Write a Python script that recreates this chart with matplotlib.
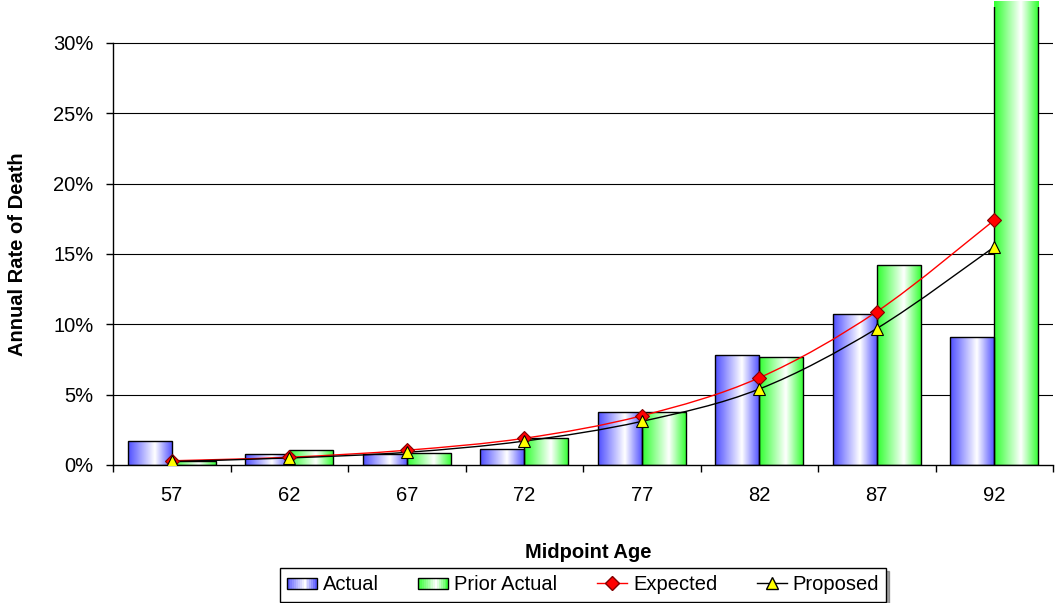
import matplotlib
matplotlib.use('Agg')
import matplotlib.pyplot as plt
import numpy as np
from matplotlib.patches import Rectangle, PathPatch
from matplotlib.path import Path
from matplotlib.lines import Line2D
from matplotlib.colors import LinearSegmentedColormap
from matplotlib.legend_handler import HandlerBase
from matplotlib.ticker import PercentFormatter, FixedLocator

ages = ['57', '62', '67', '72', '77', '82', '87', '92']
actual = [1.7, 0.75, 0.75, 1.15, 3.8, 7.8, 10.7, 9.1]
prior_actual = [0.31, 1.1, 0.83, 1.95, 3.8, 7.65, 14.2, 33.0]
expected = [0.3, 0.55, 1.05, 1.9, 3.5, 6.2, 10.9, 17.4]
proposed = [0.25, 0.5, 0.9, 1.7, 3.1, 5.4, 9.7, 15.5]

plt.rcParams['font.family'] = ['Liberation Sans', 'DejaVu Sans']
FS = 14.5

blue_cmap = LinearSegmentedColormap.from_list(
    'bl', [(0, '#5050ff'), (0.6, '#ffffff'), (1, '#5050ff')])
green_cmap = LinearSegmentedColormap.from_list(
    'gr', [(0, '#30ff30'), (0.6, '#ffffff'), (1, '#30ff30')])
grad = np.linspace(0, 1, 64).reshape(1, -1)


def grad_bar(ax, left, height, width, cmap):
    # bar outline plus a clipped gradient image inside it
    rect = Rectangle((left, 0), width, height, facecolor='none',
                     edgecolor='black', lw=1, zorder=3)
    ax.add_patch(rect)
    im = ax.imshow(grad, cmap=cmap, aspect='auto', interpolation='bilinear',
                   extent=(left, left + width, 0, height), zorder=2)
    im.set_clip_path(rect)


def smooth_line(ax, xs, ys, color, z):
    # Excel-style smoothed line: Catmull-Rom segments as cubic beziers
    pts = np.column_stack([xs, ys]).astype(float)
    ext = np.vstack([pts[0], pts, pts[-1]])
    verts = [pts[0]]
    codes = [Path.MOVETO]
    for i in range(1, len(ext) - 2):
        p0, p1, p2, p3 = ext[i - 1], ext[i], ext[i + 1], ext[i + 2]
        verts += [p1 + (p2 - p0) / 6, p2 - (p3 - p1) / 6, p2]
        codes += [Path.CURVE4] * 3
    ax.add_patch(PathPatch(Path(verts, codes), facecolor='none',
                           edgecolor=color, lw=1, zorder=z))


class GradHandler(HandlerBase):
    def __init__(self, cmap):
        super().__init__()
        self.cmap = cmap

    def create_artists(self, legend, orig_handle, xdescent, ydescent,
                       width, height, fontsize, trans):
        arts = []
        n = 16
        for i in range(n):
            c = self.cmap((i + 0.5) / n)
            arts.append(Rectangle((-xdescent + width * i / n, -ydescent + height * 0.1),
                                  width / n + 0.3, height * 0.8, facecolor=c,
                                  edgecolor='none', transform=trans))
        arts.append(Rectangle((-xdescent, -ydescent + height * 0.1), width, height * 0.8,
                              facecolor='none', edgecolor='black', lw=1, transform=trans))
        return arts


fig = plt.figure(figsize=(10.57, 6.03), dpi=100)
ax = fig.add_axes([113 / 1057, 1 - 465 / 603, 940 / 1057, 458 / 603])

x = np.arange(len(ages))
w = 0.375
for i in range(len(ages)):
    grad_bar(ax, x[i] - w, actual[i], w, blue_cmap)
    grad_bar(ax, x[i], prior_actual[i], w, green_cmap)

smooth_line(ax, x, expected, 'red', 5)
smooth_line(ax, x, proposed, 'black', 5)
ax.plot(x, expected, linestyle='none', marker='D', markersize=7,
        markerfacecolor='red', markeredgecolor='#800000', markeredgewidth=0.8, zorder=6)
ax.plot(x, proposed, linestyle='none', marker='^', markersize=9,
        markerfacecolor='yellow', markeredgecolor='black', markeredgewidth=0.8, zorder=7)

ax.set_xlim(-0.5, len(ages) - 0.5)
ax.set_ylim(0, 32.55)

for v in range(5, 31, 5):
    ax.axhline(v, color='black', lw=0.8, zorder=1)

ax.spines['top'].set_visible(False)
ax.spines['right'].set_visible(False)
ax.spines['left'].set_bounds(0, 30)
ax.spines['left'].set_linewidth(1)
ax.spines['bottom'].set_linewidth(1)

ax.yaxis.set_major_locator(FixedLocator(range(0, 31, 5)))
ax.yaxis.set_major_formatter(PercentFormatter(xmax=100, decimals=0))
ax.tick_params(axis='y', direction='out', length=5, width=1, pad=9, labelsize=FS)

ax.set_xticks(x)
ax.set_xticklabels(ages)
ax.set_xticks(np.arange(-0.5, len(ages), 1), minor=True)
ax.tick_params(axis='x', which='major', length=0, pad=15, labelsize=FS)
ax.tick_params(axis='x', which='minor', direction='out', length=5, width=1)

fig.text(18 / 1057, 1 - 254 / 603, 'Annual Rate of Death', rotation=90,
         ha='center', va='center', fontsize=FS, fontweight='bold')
fig.text(588 / 1057, 1 - 552 / 603, 'Midpoint Age', ha='center', va='center',
         fontsize=FS, fontweight='bold')

h_actual = Rectangle((0, 0), 1, 1)
h_prior = Rectangle((0, 0), 1, 1)
h_exp = Line2D([], [], color='red', lw=1, marker='D', markersize=7,
               markerfacecolor='red', markeredgecolor='#800000')
h_prop = Line2D([], [], color='black', lw=1, marker='^', markersize=9,
                markerfacecolor='yellow', markeredgecolor='black')
leg = fig.legend([h_actual, h_prior, h_exp, h_prop],
                 ['Actual', 'Prior Actual', 'Expected', 'Proposed'],
                 handler_map={h_actual: GradHandler(blue_cmap),
                              h_prior: GradHandler(green_cmap)},
                 loc='center', bbox_to_anchor=(583 / 1057, 1 - 585 / 603),
                 ncol=4, fontsize=FS, frameon=True, fancybox=False, shadow=True,
                 handlelength=1.5, handletextpad=0.3, columnspacing=1.95,
                 borderpad=0.35)
leg.get_frame().set_edgecolor('black')
leg.get_frame().set_linewidth(1)

fig.savefig('out.png', dpi=100)
